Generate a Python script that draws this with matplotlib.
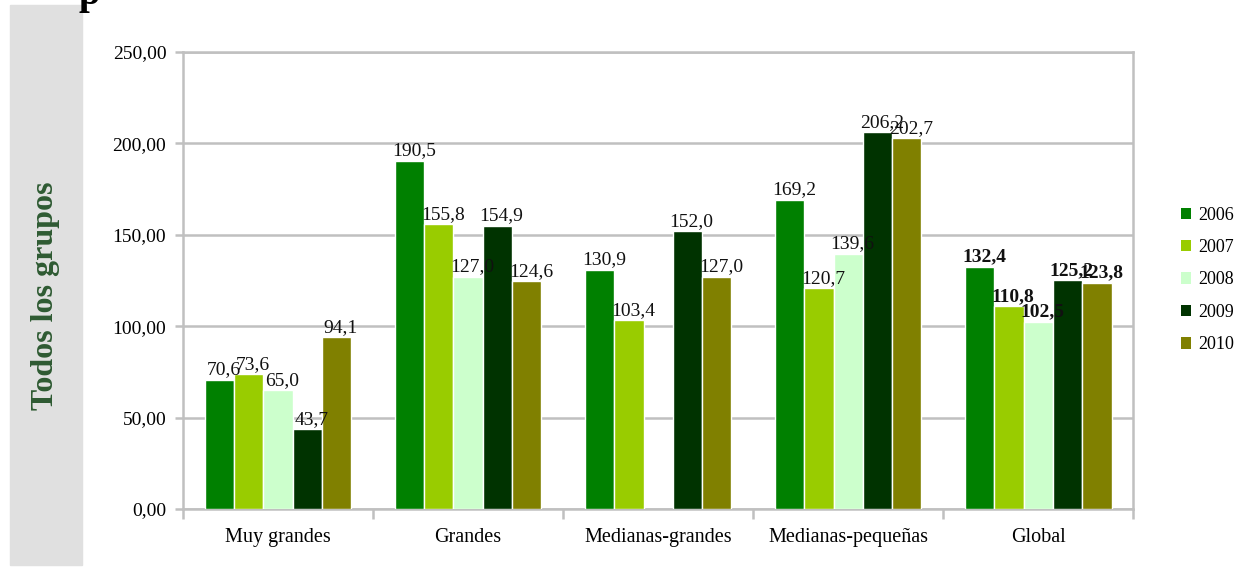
import numpy as np
import matplotlib
matplotlib.use("Agg")
import matplotlib.pyplot as plt
from matplotlib.patches import Patch

categories = ["Muy grandes", "Grandes", "Medianas-grandes", "Medianas-pequeñas", "Global"]
years = ["2006", "2007", "2008", "2009", "2010"]
v2006 = [70.6, 190.5, 130.9, 169.2, 132.4]
v2007 = [73.6, 155.8, 103.4, 120.7, 110.8]
v2008 = [65.0, 127.0, np.nan, 139.6, 102.5]
v2009 = [43.7, 154.9, 152.0, 206.2, 125.2]
v2010 = [94.1, 124.6, 127.0, 202.7, 123.8]
series = [v2006, v2007, v2008, v2009, v2010]
colors = ["#008000", "#99CC00", "#CCFFCC", "#003300", "#808000"]
yticks = [0, 50, 100, 150, 200, 250]

plt.rcParams["font.family"] = ["Liberation Serif", "DejaVu Serif"]
grid_c = "#c0c0c0"

fig = plt.figure(figsize=(12.36, 5.69), dpi=100)
ax = fig.add_axes([0.148, 0.1054, 0.769, 0.8032])

# grey side panel with group name
fig.patches.append(plt.Rectangle((0.008, 0.007), 0.058, 0.985, transform=fig.transFigure,
                                 color="#e0e0e0", zorder=0))
fig.text(0.037, 0.48, "Todos los grupos", rotation=90, ha="center", va="center",
         fontsize=23, fontweight="bold", color="#2e5a32")
fig.text(0.072, 0.993, "p", ha="center", va="baseline", fontsize=28, fontweight="bold")

x = np.arange(len(categories))
w = 0.154
for i, (vals, c) in enumerate(zip(series, colors)):
    pos = x + (i - 2) * w
    ax.bar(pos, vals, width=w, color=c, edgecolor="white", linewidth=1, zorder=3)
    for j, (p, v) in enumerate(zip(pos, vals)):
        if np.isnan(v):
            continue
        bold = categories[j] == "Global"
        ax.annotate(f"{v:.1f}".replace(".", ","), (p, v), xytext=(3, 1),
                    textcoords="offset points", ha="center", va="bottom",
                    fontsize=14, fontweight="bold" if bold else "normal",
                    color="#111111", zorder=4)

ax.set_xlim(-0.5, len(categories) - 0.5)
ax.set_ylim(0, 250)
ax.set_yticks(yticks)
ax.set_yticklabels([f"{t:.2f}".replace(".", ",") for t in yticks], fontsize=14)
ax.yaxis.grid(True, color=grid_c, linewidth=1.8, zorder=0)
ax.set_axisbelow(True)
ax.set_xticks(x)
ax.set_xticklabels(categories, fontsize=14.5)
ax.tick_params(axis="x", which="major", length=0, pad=14)
ax.set_xticks(np.arange(len(categories) + 1) - 0.5, minor=True)
ax.tick_params(axis="x", which="minor", length=7, width=1.8, color=grid_c)
ax.tick_params(axis="y", length=6, width=1.8, color=grid_c, pad=6)
for s in ax.spines.values():
    s.set_color(grid_c)
    s.set_linewidth(1.8)

handles = [Patch(facecolor=c, edgecolor="none") for c in colors]
fig.legend(handles, years, loc="center left", bbox_to_anchor=(0.945, 0.508),
           frameon=False, fontsize=13, handlelength=0.6, handleheight=0.6,
           handletextpad=0.4, labelspacing=0.85, borderpad=0.2)

fig.savefig("out.png", dpi=100)
